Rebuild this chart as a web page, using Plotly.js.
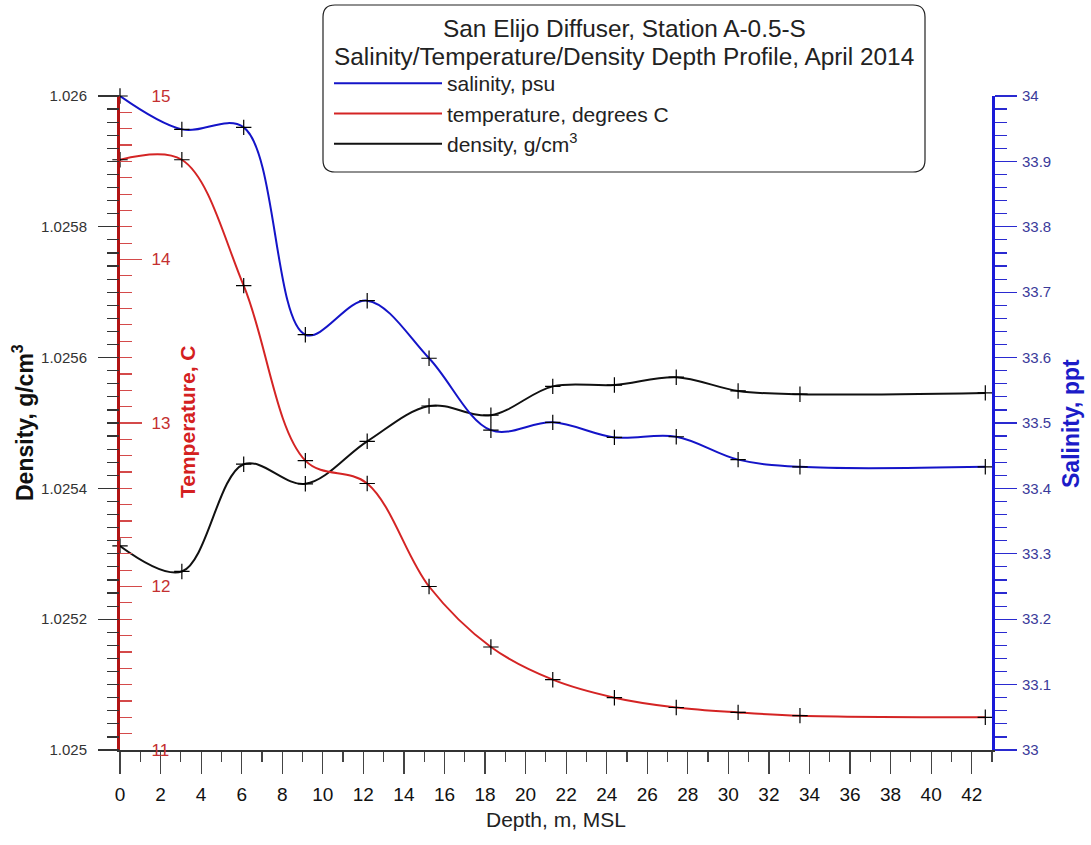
<!DOCTYPE html>
<html>
<head>
<meta charset="utf-8">
<script src="https://cdn.plot.ly/plotly-3.0.1.min.js"></script>
<style>html,body{margin:0;padding:0;background:#fff;}#chart{width:1091px;height:845px;}</style>
</head>
<body>
<div id="chart"></div>
<script>
// ---- data ----
const depth = [0, 3.05, 6.1, 9.14, 12.19, 15.24, 18.29, 21.34, 24.38, 27.43, 30.48, 33.53, 42.67];
const salinity = [34.0, 33.949, 33.952, 33.635, 33.687, 33.599, 33.489, 33.501, 33.478, 33.479, 33.444, 33.433, 33.433];
const temperature = [14.61, 14.61, 13.84, 12.77, 12.63, 12.0, 11.63, 11.43, 11.32, 11.26, 11.23, 11.21, 11.20];
const density = [1.025312, 1.025273, 1.025437, 1.025407, 1.025472, 1.025526, 1.025512, 1.025556, 1.025558, 1.02557, 1.025549, 1.025544, 1.025546];

const seriesNames = ["salinity, psu", "temperature, degrees C", "density, g/cm<sup>3</sup>"];

const depthTickVals = [0,2,4,6,8,10,12,14,16,18,20,22,24,26,28,30,32,34,36,38,40,42];
const depthTickText = ["0","2","4","6","8","10","12","14","16","18","20","22","24","26","28","30","32","34","36","38","40","42"];
const densityTickVals = [1.025, 1.0252, 1.0254, 1.0256, 1.0258, 1.026];
const densityTickText = ["1.025", "1.0252", "1.0254", "1.0256", "1.0258", "1.026"];
const tempTickVals = [11, 12, 13, 14, 15];
const tempTickText = ["11", "12", "13", "14", "15"];
const salTickVals = [33, 33.1, 33.2, 33.3, 33.4, 33.5, 33.6, 33.7, 33.8, 33.9, 34];
const salTickText = ["33", "33.1", "33.2", "33.3", "33.4", "33.5", "33.6", "33.7", "33.8", "33.9", "34"];

const titleLines = ["San Elijo Diffuser, Station A-0.5-S", "Salinity/Temperature/Density Depth Profile, April 2014"];

// ---- styling ----
const FONT = "Liberation Sans, Arial, sans-serif";
const BLUE = "#1414c8";
const RED = "#d42424";
const BLACK = "#111111";

function lineTrace(y, axis, color, name) {
  return {x: depth, y: y, yaxis: axis, type: "scatter", mode: "lines", name: name,
          line: {color: color, width: 2, shape: "spline", smoothing: 1}, hoverinfo: "skip"};
}
function markTrace(y, axis) {
  return {x: depth, y: y, yaxis: axis, type: "scatter", mode: "markers", showlegend: false,
          cliponaxis: false, hoverinfo: "skip",
          marker: {symbol: "cross-thin", size: 11, color: "#000", line: {color: "#000", width: 1.2}}};
}

const traces = [
  lineTrace(salinity, "y3", BLUE, seriesNames[0]),
  lineTrace(temperature, "y2", RED, seriesNames[1]),
  lineTrace(density, "y", BLACK, seriesNames[2]),
  markTrace(salinity, "y3"),
  markTrace(temperature, "y2"),
  markTrace(density, "y")
];

// legend box geometry (paper coords)
const L = 120, T = 96, W = 872, H = 654;
function px(x) { return (x - L) / W; }
function py(y) { return (T + H - y) / H; }
const bx0 = px(323), bx1 = px(925), by0 = py(172), by1 = py(5);
const rx = 12 / W, ry = 12 / H;
const boxPath = `M ${bx0 + rx},${by1} L ${bx1 - rx},${by1} Q ${bx1},${by1} ${bx1},${by1 - ry} ` +
  `L ${bx1},${by0 + ry} Q ${bx1},${by0} ${bx1 - rx},${by0} L ${bx0 + rx},${by0} ` +
  `Q ${bx0},${by0} ${bx0},${by0 + ry} L ${bx0},${by1 - ry} Q ${bx0},${by1} ${bx0 + rx},${by1} Z`;

const layout = {
  width: 1091, height: 845,
  margin: {l: L, r: 1091 - L - W, t: T, b: 845 - T - H, pad: 0},
  paper_bgcolor: "#fff", plot_bgcolor: "#fff",
  font: {family: FONT, color: "#222"},
  showlegend: true,
  legend: {x: px(329), y: py(63), xanchor: "left", yanchor: "top", bgcolor: "rgba(0,0,0,0)",
           borderwidth: 0, font: {size: 21, color: "#222", family: FONT}, itemwidth: 108,
           tracegroupgap: 0},
  xaxis: {range: [0, 43], tickmode: "array", tickvals: depthTickVals, ticktext: depthTickText,
          ticks: "outside", ticklen: 22, tickwidth: 1.2, tickcolor: "#444",
          minor: {tickmode: "linear", tick0: 0, dtick: 1, ticks: "outside", ticklen: 10, tickcolor: "#444", tickwidth: 1.2},
          showline: true, linecolor: "#333", linewidth: 1.5, showgrid: false, zeroline: false,
          tickfont: {size: 19, color: "#111"}, ticklabelstandoff: 5,
          title: {text: "Depth, m, MSL", font: {size: 21, color: "#222"}, standoff: 8}},
  yaxis: {range: [1.025, 1.026], tickmode: "array", tickvals: densityTickVals, ticktext: densityTickText,
          ticks: "outside", ticklen: 21, tickwidth: 1.2, tickcolor: "#333",
          minor: {tickmode: "linear", tick0: 1.025, dtick: 0.00002, ticks: "outside", ticklen: 12, tickcolor: "#333", tickwidth: 1.2},
          showline: false, showgrid: false, zeroline: false, ticklabelstandoff: 8,
          tickfont: {size: 15, color: "#333"}},
  yaxis2: {overlaying: "y", anchor: "x", side: "left", range: [11, 15], tickmode: "array",
           tickvals: tempTickVals, ticktext: tempTickText,
           ticks: "inside", ticklen: 22, tickwidth: 1.2, tickcolor: "#d44a4a",
           minor: {tickmode: "linear", tick0: 11, dtick: 0.1, ticks: "inside", ticklen: 12, tickcolor: "#d44a4a", tickwidth: 1.2},
           showline: true, linecolor: "#b01414", linewidth: 3, showgrid: false, zeroline: false,
           ticklabelposition: "inside", ticklabeloverflow: "allow", ticklabelstandoff: 10,
           tickfont: {size: 17, color: "#c43030"}},
  yaxis3: {overlaying: "y", anchor: "x", side: "right", range: [33, 34], tickmode: "array",
           tickvals: salTickVals, ticktext: salTickText,
           ticks: "outside", ticklen: 22, tickwidth: 1.2, tickcolor: "#2a2ad0",
           minor: {tickmode: "linear", tick0: 33, dtick: 0.02, ticks: "outside", ticklen: 12, tickcolor: "#2a2ad0", tickwidth: 1.2},
           showline: true, linecolor: "#1a1ad8", linewidth: 3, showgrid: false, zeroline: false,
           ticklabelstandoff: 2, tickfont: {size: 15, color: "#3a3a9a"}},
  shapes: [
    {type: "path", xref: "paper", yref: "paper", path: boxPath, fillcolor: "#fff",
     line: {color: "#222", width: 1.2}, layer: "below"}
  ],
  annotations: [
    {xref: "paper", yref: "paper", x: px(624), y: py(28), xanchor: "center", yanchor: "middle",
     text: titleLines[0], showarrow: false, font: {size: 24.4, color: "#222"}},
    {xref: "paper", yref: "paper", x: px(624), y: py(56), xanchor: "center", yanchor: "middle",
     text: titleLines[1], showarrow: false, font: {size: 24.4, color: "#222"}},
    {xref: "paper", yref: "paper", x: px(23), y: py(423), xanchor: "center", yanchor: "middle",
     textangle: -90, text: "Density, g/cm<sup>3</sup>", showarrow: false,
     font: {size: 23, color: "#111", weight: "bold"}},
    {xref: "paper", yref: "paper", x: px(187), y: py(422), xanchor: "center", yanchor: "middle",
     textangle: -90, text: "Temperature, C", showarrow: false,
     font: {size: 21, color: "#d42020", weight: "bold"}},
    {xref: "paper", yref: "paper", x: px(1071), y: py(424), xanchor: "center", yanchor: "middle",
     textangle: -90, text: "Salinity, ppt", showarrow: false,
     font: {size: 23, color: "#1c1cc8", weight: "bold"}}
  ]
};

Plotly.newPlot("chart", traces, layout, {staticPlot: true, displayModeBar: false});
</script>
</body>
</html>
